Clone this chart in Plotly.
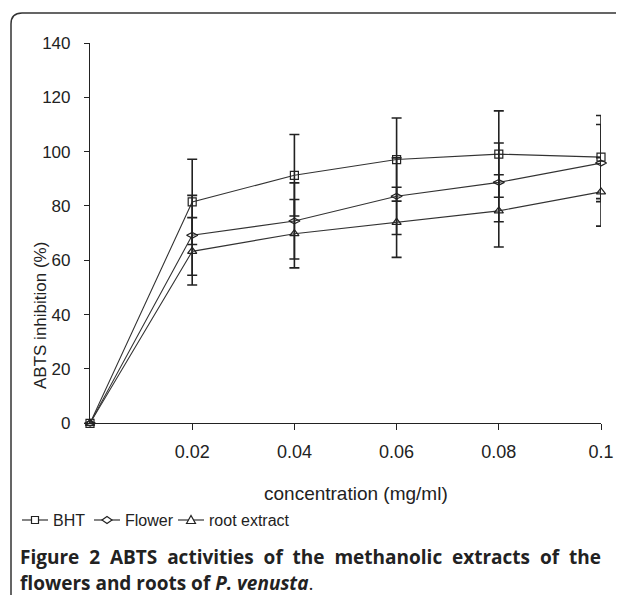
import plotly.graph_objects as go

# ---- data ----
conc = [0, 0.02, 0.04, 0.06, 0.08, 0.1]
bht = [0, 81.5, 91.3, 97.1, 99.1, 98.0]
bht_err = [None, 15.7, 15.0, 15.3, 15.9, 15.3]
flower = [0, 69.2, 74.5, 83.6, 88.7, 95.8]
flower_err = [None, 14.7, 14.0, 14.1, 14.5, 14.2]
root = [0, 63.3, 69.8, 74.0, 78.2, 85.2]
root_err = [None, 12.4, 12.6, 12.9, 13.3, 12.6]
series_names = ["BHT", "Flower", "root extract"]
x_ticks = [0.02, 0.04, 0.06, 0.08, 0.1]
x_ticktext = ["0.02", "0.04", "0.06", "0.08", "0.1"]
y_ticks = [0, 20, 40, 60, 80, 100, 120, 140]

# page has an 8px body margin; figure sized so the page is exactly 624x603
OFF = 8
W, H = 624 - 2 * OFF, 603 - 2 * OFF
L, R = 90, 601      # plot area bounds in screenshot pixels
T, B = 43, 423.3


def X(p):
    return (p - OFF) / W


def Y(p):
    return 1 - (p - OFF) / H


INK = "#222222"
fig = go.Figure()
symbols = ["square-open", "diamond-wide-open", "triangle-up-open"]
for name, ys, err, sym in zip(series_names, [bht, flower, root],
                              [bht_err, flower_err, root_err], symbols):
    fig.add_trace(go.Scatter(
        x=conc, y=ys, name=name, mode="lines+markers",
        line=dict(color="#333333", width=1.1),
        marker=dict(symbol=sym, size=8, color=INK, line=dict(color=INK, width=1.2)),
        error_y=dict(type="data", array=err, visible=True,
                     color=INK, thickness=1.6, width=5),
        cliponaxis=False, showlegend=False,
    ))

fig.update_layout(
    width=W, height=H,
    margin=dict(l=0, r=0, t=0, b=0, autoexpand=False),
    paper_bgcolor="white", plot_bgcolor="white",
    font=dict(family="Liberation Sans, Arial, sans-serif", size=17, color=INK),
    showlegend=False,
    xaxis=dict(domain=[X(L), X(R)], range=[0, 0.1], tickvals=x_ticks, ticktext=x_ticktext,
               showgrid=False, zeroline=False, showline=True, linecolor=INK,
               linewidth=1.2, ticks="outside", ticklen=6, tickcolor=INK,
               tickfont=dict(size=18), ticklabelstandoff=6, automargin=False),
    yaxis=dict(domain=[Y(B), Y(T)], range=[0, 140], tickvals=y_ticks, showgrid=False,
               zeroline=False, showline=True, linecolor=INK, linewidth=1.2,
               ticks="outside", ticklen=5, tickcolor=INK, tickfont=dict(size=17),
               ticklabelstandoff=10, automargin=False),
)

sp = " \u00a0"
line1 = sp.join(["<b>Figure", "2</b>", "<b>ABTS", "activities", "of", "the", "methanolic",
                 "extracts", "of", "the</b>"])
annotations = [
    dict(text="concentration (mg/ml)", x=X(356), y=Y(493), xref="paper", yref="paper",
         showarrow=False, font=dict(size=19, color=INK), xanchor="center", yanchor="middle"),
    dict(text="ABTS inhibition (%)", x=X(40), y=Y(316), xref="paper", yref="paper",
         showarrow=False, textangle=-90, font=dict(size=17, color=INK),
         xanchor="center", yanchor="middle"),
    dict(text=line1, x=X(18), y=Y(557), xref="paper", yref="paper", showarrow=False,
         font=dict(family="Open Sans, sans-serif", size=19, color=INK),
         xanchor="left", yanchor="middle"),
    dict(text="<b>flowers and roots of <i>P. venusta</i></b>.",
         x=X(18), y=Y(583), xref="paper", yref="paper", showarrow=False,
         font=dict(family="Open Sans, sans-serif", size=19, color=INK),
         xanchor="left", yanchor="middle"),
]

# custom legend: glyph line + marker shape + label
shapes = []
leg_y = 520
leg_items = [(22, 51), (94, 123), (178, 207)]
for (gx, tx), name, sym in zip(leg_items, series_names, symbols):
    shapes.append(dict(type="line", xref="paper", yref="paper",
                       x0=X(gx), x1=X(gx + 26), y0=Y(leg_y), y1=Y(leg_y),
                       line=dict(color="#333333", width=1.2)))
    cx = gx + 13
    if sym.startswith("square"):
        path = (f"M {X(cx-3.5)},{Y(leg_y-3.5)} L {X(cx+3.5)},{Y(leg_y-3.5)} "
                f"L {X(cx+3.5)},{Y(leg_y+3.5)} L {X(cx-3.5)},{Y(leg_y+3.5)} Z")
    elif sym.startswith("diamond"):
        path = (f"M {X(cx-5)},{Y(leg_y)} L {X(cx)},{Y(leg_y-3.5)} "
                f"L {X(cx+5)},{Y(leg_y)} L {X(cx)},{Y(leg_y+3.5)} Z")
    else:
        path = (f"M {X(cx-4.5)},{Y(leg_y+3.5)} L {X(cx)},{Y(leg_y-4.5)} "
                f"L {X(cx+4.5)},{Y(leg_y+3.5)} Z")
    shapes.append(dict(type="path", path=path, xref="paper", yref="paper",
                       fillcolor="white", line=dict(color=INK, width=1.2)))
    annotations.append(dict(text=name, x=X(tx), y=Y(leg_y), xref="paper", yref="paper",
                            showarrow=False, font=dict(size=16, color=INK),
                            xanchor="left", yanchor="middle"))

# rounded frame around the figure panel
frame = (f"M {X(11)},{Y(597)} Q {X(11)},{Y(603)} {X(16)},{Y(604)} "
         f"M {X(11)},{Y(597)} L {X(11)},{Y(24)} Q {X(11)},{Y(13)} {X(22)},{Y(13)} "
         f"L {X(640)},{Y(13)}")
shapes.append(dict(type="path", path=frame, xref="paper", yref="paper",
                   line=dict(color="#333333", width=1.5), layer="below"))

fig.update_layout(annotations=annotations, shapes=shapes)
fig.write_html("out.html")
